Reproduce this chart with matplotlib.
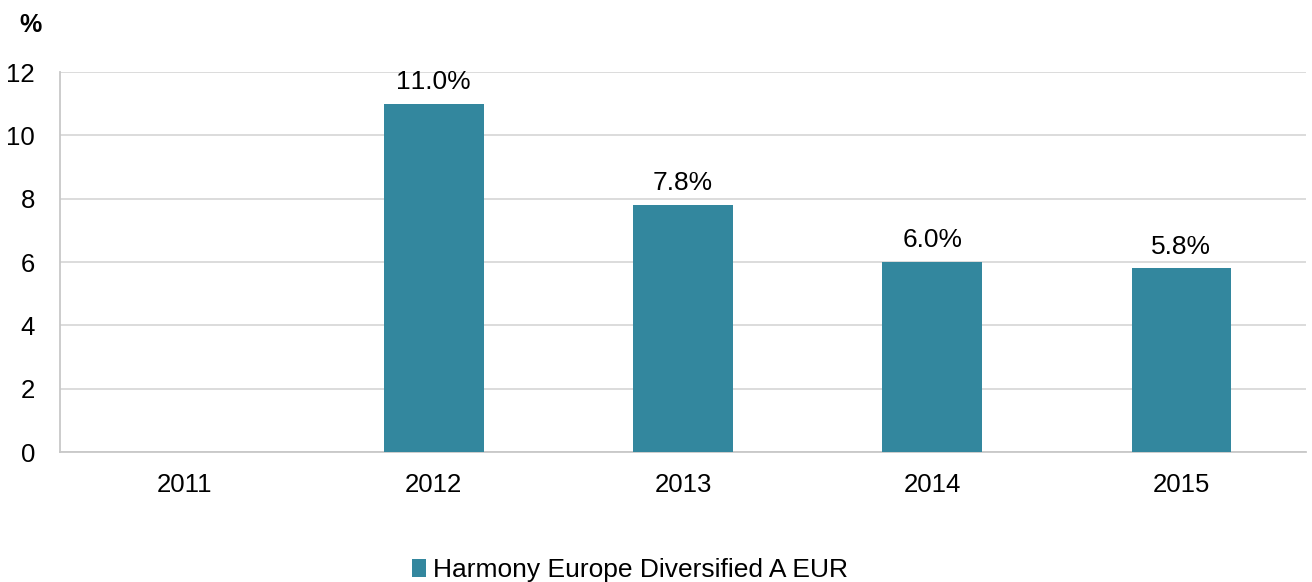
import matplotlib.pyplot as plt

plt.rcParams['font.family'] = ['Liberation Sans', 'DejaVu Sans']

years = ['2011', '2012', '2013', '2014', '2015']
returns = [0.0, 11.0, 7.8, 6.0, 5.8]
labels = ['', '1\u200b1.0%', '7.8%', '6.0%', '5.8%']
series_name = 'Harmony Europe Diversified A EUR'
bar_color = '#33879e'


def main():
    fig = plt.figure(figsize=(13.12, 5.82), dpi=100)
    ax = fig.add_axes([60 / 1312, 130 / 582, 1246 / 1312, 380 / 582])

    x = range(len(years))
    bars = ax.bar(x, returns, width=0.4, color=bar_color, label=series_name, zorder=3)
    for bar, lab in zip(bars, labels):
        if lab:
            ax.annotate(lab, (bar.get_x() + bar.get_width() / 2, bar.get_height()),
                        xytext=(0, 7), textcoords='offset points',
                        ha='center', va='bottom', fontsize=19)

    ax.set_xlim(-0.5, len(years) - 0.5)
    ax.set_ylim(0, 12)
    ax.set_yticks(range(0, 13, 2))
    ax.set_xticks(list(x))
    ax.set_xticklabels(years)
    ax.tick_params(axis='both', length=0, labelsize=18.5)
    ax.tick_params(axis='x', pad=15)
    ax.tick_params(axis='y', pad=18)
    ax.grid(axis='y', color='#d9d9d9', linewidth=1.3, zorder=0)
    for s in ['top', 'right']:
        ax.spines[s].set_visible(False)
    for s in ['left', 'bottom']:
        ax.spines[s].set_color('#c8c8c8')
        ax.spines[s].set_linewidth(1.3)

    fig.text(31 / 1312, 1 - 25 / 582, '%', fontsize=18, fontweight='bold',
             ha='center', va='center')

    fig.legend(loc='center', bbox_to_anchor=(630 / 1312, 1 - 570 / 582),
               frameon=False, fontsize=19, handlelength=0.55, handleheight=0.7,
               handletextpad=0.25, borderpad=0)

    fig.savefig('out.png', dpi=100)


if __name__ == '__main__':
    main()
